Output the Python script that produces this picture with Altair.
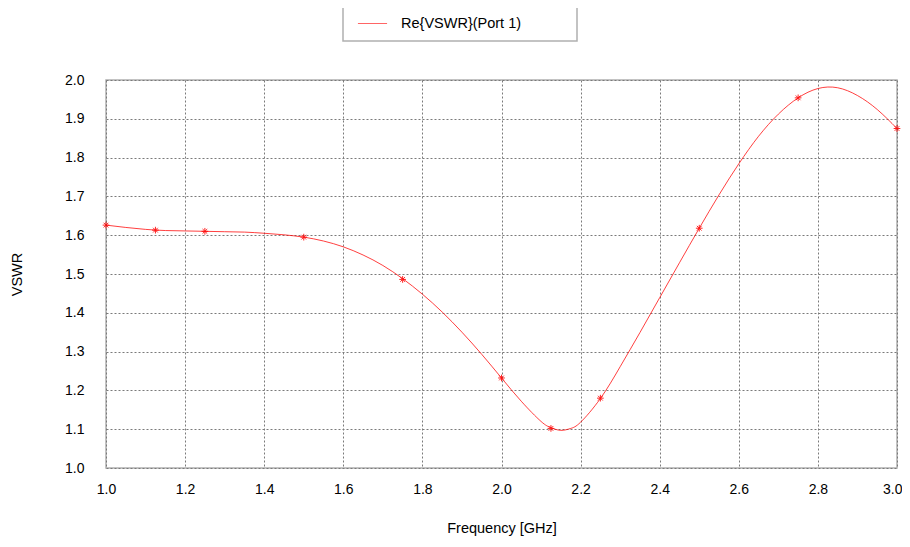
import altair as alt
import pandas as pd

SERIES = "Re{VSWR}(Port 1)"

# Curve (frequency GHz, VSWR)
curve_f = [1.0, 1.05, 1.1, 1.15, 1.2, 1.25, 1.3, 1.35, 1.4, 1.45, 1.5, 1.55, 1.6, 1.65,
           1.7, 1.75, 1.8, 1.85, 1.9, 1.95, 2.0, 2.05, 2.1, 2.125, 2.15, 2.175, 2.2, 2.25,
           2.3, 2.35, 2.4, 2.45, 2.5, 2.55, 2.6, 2.65, 2.7, 2.75, 2.8, 2.85, 2.9,
           2.95, 3.0]
curve_v = [1.626, 1.620, 1.615, 1.612, 1.611, 1.610, 1.609, 1.608, 1.605, 1.601, 1.595,
           1.585, 1.570, 1.549, 1.522, 1.488, 1.448, 1.402, 1.350, 1.293, 1.232, 1.172,
           1.120, 1.104, 1.097, 1.102, 1.118, 1.179, 1.261, 1.349, 1.439, 1.529, 1.618,
           1.704, 1.784, 1.855, 1.912, 1.954, 1.978, 1.980, 1.960, 1.924, 1.875]

# Marker points
mark_f = [1.0, 1.125, 1.25, 1.5, 1.75, 2.0, 2.125, 2.25, 2.5, 2.75, 3.0]
mark_v = [1.626, 1.613, 1.610, 1.595, 1.486, 1.232, 1.102, 1.180, 1.618, 1.954, 1.875]

x_ticks = [1.0, 1.2, 1.4, 1.6, 1.8, 2.0, 2.2, 2.4, 2.6, 2.8, 3.0]
y_ticks = [1.0, 1.1, 1.2, 1.3, 1.4, 1.5, 1.6, 1.7, 1.8, 1.9, 2.0]

curve = pd.DataFrame({"f": curve_f, "v": curve_v, "s": SERIES})
marks = pd.DataFrame({"f": mark_f, "v": mark_v})

FONT = "Liberation Sans"

x = alt.X("f:Q", scale=alt.Scale(domain=[1.0, 3.0], nice=False, zero=False),
          axis=alt.Axis(values=x_ticks, tickCount=30, format=".1f", title="Frequency [GHz]",
                        ticks=False, labelPadding=14, titleY=53, titleBaseline="top",
                        grid=True, domain=False, labelOverlap=False, labelFlush=False,
                        labelAlign={"condition": {"test": "datum.value >= 2.99", "value": "right"},
                                    "value": "center"},
                        labelOffset={"condition": {"test": "datum.value >= 2.99", "value": 5},
                                     "value": 0}))
y = alt.Y("v:Q", scale=alt.Scale(domain=[1.0, 2.0], nice=False, zero=False),
          axis=alt.Axis(values=y_ticks, tickCount=30, format=".1f", title="VSWR",
                        ticks=False, labelPadding=22, titleX=-82, titleY=194,
                        grid=True, domain=False, labelOverlap=False, labelFlush=False))

line = alt.Chart(curve).mark_line(strokeWidth=1, interpolate="natural", opacity=0.75).encode(
    x=x, y=y,
    color=alt.Color("s:N", scale=alt.Scale(domain=[SERIES], range=["#ff0000"]),
                    legend=alt.Legend(title=None, orient="none", legendX=251, legendY=-72,
                                      symbolType="stroke", symbolSize=850,
                                      symbolStrokeWidth=1, labelOffset=13,
                                      labelFontSize=14.5, labelFont=FONT,
                                      symbolOpacity=0.6)),
)

star = "M-1,0L1,0M0,-1L0,1M-0.7,-0.7L0.7,0.7M-0.7,0.7L0.7,-0.7"
pts = alt.Chart(marks).mark_point(shape=star, size=45, filled=False, color="#ff0000",
                                  strokeWidth=1, opacity=0.85).encode(
    x=alt.X("f:Q"), y=alt.Y("v:Q"))

frame = alt.Chart(pd.DataFrame({"a": [0]})).mark_rect(
    fill="white", stroke="#b0b0b0", strokeWidth=1.5).encode(
    x=alt.value(237), x2=alt.value(471), y=alt.value(-73), y2=alt.value(-39))

chart = alt.layer(frame, line, pts).properties(
    width=791, height=388,
    background="white",
    autosize=alt.AutoSizeParams(type="none"),
    padding={"left": 98, "top": 72, "right": 5, "bottom": 70},
).configure_view(stroke="#b0b0b0", strokeWidth=1.5).configure_axis(
    labelFont=FONT, titleFont=FONT, labelFontSize=14, titleFontSize=14.5,
    labelColor="black", titleColor="black", titleFontWeight="normal",
    gridColor="#7a7a7a", gridDash=[2, 2], gridWidth=1, gridOpacity=1,
)

chart.save("out.html", embed_options={"renderer": "svg", "actions": False})
